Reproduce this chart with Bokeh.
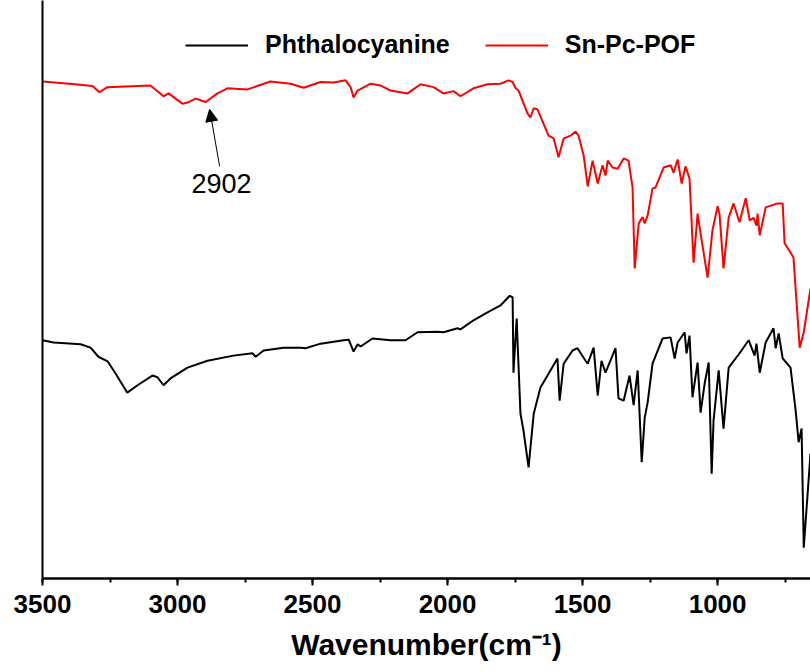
from bokeh.plotting import figure
from bokeh.models import (Range1d, SingleIntervalTicker, FixedTicker, Legend, LegendItem,
                          Label, Arrow, NormalHead)
from bokeh.embed import file_html
from bokeh.resources import INLINE

# ---- data (transmittance in arbitrary units) ----
wn_pc = [3500, 3459, 3359, 3322, 3293, 3259, 3230, 3186, 3148, 3093, 3074, 3052, 3026, 2963, 2889,
         2793, 2722, 2711, 2681, 2607, 2544, 2526, 2470, 2385, 2366, 2348, 2333, 2322, 2278, 2211,
         2156, 2111, 2037, 2015, 1963, 1952, 1904, 1852, 1804, 1770, 1759, 1756, 1744, 1741, 1730,
         1719, 1700, 1681, 1656, 1630, 1593, 1585, 1570, 1537, 1519, 1489, 1481, 1459, 1444, 1430,
         1415, 1378, 1367, 1348, 1326, 1311, 1296, 1281, 1270, 1259, 1241, 1204, 1174, 1159, 1148,
         1122, 1115, 1104, 1093, 1074, 1063, 1048, 1033, 1022, 1015, 996, 978, 959, 922, 885,
         863, 856, 844, 822, 793, 785, 774, 759, 730, 711, 700, 689, 681, 656]
t_pc = [41.8, 41.4, 41.1, 40.5, 38.9, 38.1, 36.0, 32.6, 33.9, 35.6, 35.3, 33.9, 35.1, 37.0, 38.2,
        39.1, 39.5, 38.9, 40.0, 40.5, 40.5, 40.4, 41.2, 41.8, 41.9, 39.8, 41.1, 40.7, 42.1, 41.8,
        41.8, 43.2, 43.3, 43.2, 43.9, 43.7, 45.3, 46.7, 47.9, 49.6, 49.3, 36.1, 45.6, 41.8, 28.9,
        26.0, 19.5, 28.9, 33.5, 35.6, 38.6, 31.2, 37.7, 40.0, 40.4, 38.2, 37.7, 40.5, 32.1, 38.2,
        36.1, 40.4, 31.6, 31.2, 35.6, 30.4, 36.5, 20.4, 28.2, 30.9, 37.7, 42.1, 42.3, 38.6, 41.4,
        43.2, 39.5, 42.6, 31.8, 37.9, 29.1, 34.2, 37.9, 18.4, 27.7, 36.5, 26.3, 37.0, 39.3, 41.8,
        39.1, 41.2, 36.1, 41.4, 43.9, 40.4, 43.0, 38.6, 37.0, 29.5, 23.9, 26.3, 5.4, 21.9]

wn_sn = [3500, 3380, 3315, 3289, 3260, 3100, 3052, 3033, 2982, 2963, 2933, 2896, 2852, 2815, 2741,
         2656, 2581, 2533, 2470, 2422, 2378, 2359, 2348, 2333, 2285, 2248, 2211, 2148, 2100, 2052,
         2015, 1978, 1952, 1904, 1852, 1804, 1774, 1759, 1748, 1737, 1704, 1693, 1681, 1667, 1626,
         1607, 1589, 1570, 1544, 1526, 1515, 1496, 1481, 1463, 1444, 1426, 1415, 1407, 1389, 1370,
         1348, 1330, 1315, 1307, 1292, 1278, 1270, 1259, 1241, 1230, 1200, 1174, 1163, 1148, 1133,
         1119, 1104, 1089, 1074, 1063, 1037, 1019, 1000, 993, 978, 959, 941, 919, 896, 881,
         867, 856, 852, 844, 822, 778, 759, 752, 730, 719, 696, 681, 656]
t_sn = [87.2, 86.7, 86.4, 85.3, 86.2, 86.5, 84.6, 85.1, 83.3, 83.5, 84.2, 83.6, 85.1, 86.0, 85.8,
        87.2, 86.8, 86.1, 87.1, 87.0, 87.4, 86.2, 84.4, 85.6, 86.8, 86.5, 85.6, 85.1, 86.7, 86.2,
        85.1, 85.5, 84.6, 86.0, 86.7, 86.8, 87.4, 87.1, 86.0, 85.6, 81.6, 80.9, 82.5, 82.3, 77.7,
        77.2, 73.9, 77.2, 77.7, 78.4, 77.7, 74.2, 68.8, 73.3, 69.3, 72.5, 70.7, 73.3, 72.1, 71.9,
        73.7, 73.3, 68.6, 54.4, 62.3, 63.4, 62.3, 63.7, 68.4, 68.6, 72.1, 72.5, 71.2, 73.5, 69.3,
        72.3, 70.2, 55.4, 64.0, 60.5, 52.8, 61.1, 65.3, 64.0, 54.4, 63.3, 65.8, 62.5, 66.7, 62.8,
        63.3, 61.9, 64.0, 60.2, 65.1, 65.8, 65.8, 58.8, 57.2, 56.3, 40.5, 43.2, 50.9]

series_names = ["Phthalocyanine", "Sn-Pc-POF"]
x_label = "Wavenumber(cm\u207b\u00b9)"
ann_text = "2902"
ann_label_pos = (2837, 69.3)
ann_arrow_start = (2844, 72.3)
ann_arrow_end = (2881, 82.3)

FONT = "Liberation Sans"

p = figure(width=810, height=672, output_backend="svg", toolbar_location=None,
           x_range=Range1d(3500, 656), y_range=Range1d(0, 101.4),
           min_border_left=42, min_border_right=0, min_border_top=0, min_border_bottom=94)
p.outline_line_color = None
p.xgrid.visible = False
p.ygrid.visible = False
p.background_fill_color = "white"

r_pc = p.line(wn_pc, t_pc, line_color="black", line_width=2)
r_sn = p.line(wn_sn, t_sn, line_color="#ff0000", line_width=2)

xa = p.xaxis[0]
xa.ticker = SingleIntervalTicker(interval=500, num_minor_ticks=2)
xa.axis_line_width = 2.5
xa.axis_line_color = "black"
xa.major_tick_line_width = 2
xa.minor_tick_line_width = 2
xa.major_tick_in = 0
xa.major_tick_out = 7
xa.minor_tick_in = 0
xa.minor_tick_out = 4
xa.major_label_text_font = FONT
xa.major_label_text_font_style = "bold"
xa.major_label_text_font_size = "26px"
xa.major_label_text_color = "black"
xa.major_label_standoff = 9
xa.axis_label = x_label
xa.axis_label_text_font = FONT
xa.axis_label_text_font_style = "bold"
xa.axis_label_text_font_size = "30px"
xa.axis_label_text_color = "black"
xa.axis_label_standoff = 12

ya = p.yaxis[0]
ya.ticker = FixedTicker(ticks=[])
ya.axis_line_width = 2
ya.axis_line_color = "black"
ya.major_tick_line_color = None
ya.minor_tick_line_color = None

legend = Legend(items=[LegendItem(label=series_names[0], renderers=[r_pc]),
                       LegendItem(label=series_names[1], renderers=[r_sn])],
                orientation="horizontal", location=(143, 519))
legend.border_line_color = None
legend.background_fill_alpha = 0
legend.padding = 0
legend.margin = 0
legend.spacing = 35
legend.glyph_width = 63
legend.glyph_height = 20
legend.label_standoff = 17
legend.label_text_font = FONT
legend.label_text_font_style = "bold"
legend.label_text_font_size = "25px"
legend.label_text_color = "black"
legend.label_height = 20
p.add_layout(legend, "center")

p.add_layout(Arrow(x_start=ann_arrow_start[0], y_start=ann_arrow_start[1],
                   x_end=ann_arrow_end[0], y_end=ann_arrow_end[1],
                   line_width=1, line_color="black",
                   end=NormalHead(size=12, fill_color="black", line_color="black")))
p.add_layout(Label(x=ann_label_pos[0], y=ann_label_pos[1], text=ann_text,
                   text_align="center", text_baseline="middle",
                   text_font=FONT, text_font_size="27px", text_color="black"))

open("out.html", "w").write(file_html(p, INLINE))
